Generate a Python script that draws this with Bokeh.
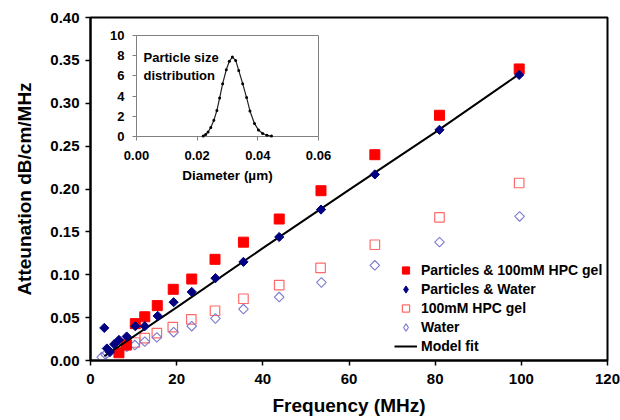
import math
from bokeh.plotting import figure
from bokeh.models import (Range1d, LinearAxis, FixedTicker, Legend, LegendItem,
                          Label, PrintfTickFormatter)
from bokeh.embed import file_html
from bokeh.resources import INLINE

# ---------------- data ----------------
# Particles & 100mM HPC gel (filled red squares)
gel_p_freq = [6.6, 8.3, 10.4, 12.6, 15.5, 19.2, 23.5, 28.9, 35.5, 43.8, 53.5, 66.0, 81.0, 99.5]
gel_p_att = [0.009, 0.018, 0.043, 0.051, 0.064, 0.083, 0.095, 0.118, 0.138, 0.165, 0.198, 0.240, 0.286, 0.340]

# Particles & Water (filled navy diamonds)
wat_p_freq = [3.2, 3.8, 4.5, 5.5, 6.6, 8.4, 10.4, 12.6, 15.6, 19.3, 23.5, 29.0, 35.5, 43.8, 53.5, 66.0, 81.0, 99.5]
wat_p_att = [0.038, 0.014, 0.010, 0.019, 0.024, 0.028, 0.040, 0.040, 0.052, 0.068, 0.080, 0.096, 0.115, 0.144, 0.176, 0.217, 0.269, 0.333]

# 100mM HPC gel (open red squares)
gel_freq = [6.4, 8.4, 10.3, 12.6, 15.4, 19.1, 23.4, 28.9, 35.5, 43.8, 53.4, 66.0, 81.0, 99.5]
gel_att = [0.015, 0.019, 0.021, 0.026, 0.032, 0.039, 0.048, 0.058, 0.072, 0.088, 0.108, 0.135, 0.167, 0.207]

# Water (open blue diamonds)
wat_freq = [2.6, 3.5, 4.5, 6.6, 8.4, 10.3, 12.6, 15.4, 19.3, 23.5, 29.0, 35.5, 43.8, 53.6, 66.0, 81.0, 99.6]
wat_att = [0.004, 0.007, 0.010, 0.014, 0.016, 0.018, 0.022, 0.027, 0.033, 0.040, 0.049, 0.060, 0.074, 0.091, 0.111, 0.138, 0.168]

# Model fit line
fit_freq = [3.2, 20.0, 40.0, 60.0, 80.0, 99.5]
fit_att = [0.005, 0.062, 0.131, 0.199, 0.266, 0.334]

# Inset: particle size distribution
diam = [0.0220, 0.0228, 0.0236, 0.0245, 0.0255, 0.0265, 0.0274, 0.0284, 0.0296, 0.0306, 0.0316,
        0.0327, 0.0337, 0.0350, 0.0363, 0.0374, 0.0389, 0.0402, 0.0416, 0.0430, 0.0445]
psd = [0.06, 0.2, 0.45, 0.9, 1.6, 2.57, 3.81, 5.23, 6.61, 7.45, 7.86,
       7.53, 6.54, 5.23, 3.85, 2.53, 1.28, 0.65, 0.3, 0.12, 0.04]

x_ticks = [0, 20, 40, 60, 80, 100, 120]
y_ticks = [0.0, 0.05, 0.10, 0.15, 0.20, 0.25, 0.30, 0.35, 0.40]
inset_x_ticks = [0.0, 0.02, 0.04, 0.06]
inset_y_ticks = [0, 2, 4, 6, 8, 10]

labels = ["Particles & 100mM HPC gel", "Particles & Water", "100mM HPC gel", "Water", "Model fit"]

# ---------------- layout constants (pixels) ----------------
W, H = 620, 420
FL, FR, FT, FB = 90, 607, 17, 360       # main frame
IL, IR, IT, IB = 136, 318, 35, 136      # inset frame
FONT = "Liberation Sans"

p = figure(width=W, height=H, output_backend="svg", toolbar_location=None, title=None,
           x_range=Range1d(x_ticks[0], x_ticks[-1]), y_range=Range1d(y_ticks[0], y_ticks[-1]),
           min_border_left=FL, min_border_right=W - FR, min_border_top=FT, min_border_bottom=H - FB)
p.grid.visible = False
p.outline_line_color = "black"
p.outline_line_width = 2
p.background_fill_color = "white"
p.border_fill_color = "white"

for ax in (p.xaxis[0], p.yaxis[0]):
    ax.axis_line_color = "black"
    ax.axis_line_width = 2
    ax.major_tick_line_color = "black"
    ax.major_tick_line_width = 1.5
    ax.major_tick_out = 5
    ax.major_tick_in = 0
    ax.minor_tick_line_color = None
    ax.major_label_text_font = FONT
    ax.major_label_text_font_style = "bold"
    ax.major_label_text_font_size = "15px"
    ax.major_label_text_color = "black"
    ax.axis_label_text_font = FONT
    ax.axis_label_text_font_style = "bold"
    ax.axis_label_text_font_size = "19px"
    ax.axis_label_text_color = "black"

p.xaxis.ticker = FixedTicker(ticks=x_ticks)
p.xaxis.formatter = PrintfTickFormatter(format="%d")
p.xaxis.axis_label = "Frequency (MHz)"
p.xaxis.major_label_standoff = 8
p.xaxis.axis_label_standoff = 8

p.yaxis.ticker = FixedTicker(ticks=y_ticks)
p.yaxis.formatter = PrintfTickFormatter(format="%.2f")
p.yaxis.axis_label = "Atteunation dB/cm/MHz"
p.yaxis.major_label_standoff = 6
p.yaxis.axis_label_standoff = 12

# ---------------- inset coordinate system ----------------
ix0, ix1 = inset_x_ticks[0], inset_x_ticks[-1]
iy0, iy1 = inset_y_ticks[0], inset_y_ticks[-1]
sx = (IR - IL) / (ix1 - ix0)
sy = (IB - IT) / (iy1 - iy0)
p.extra_x_ranges = {"ix": Range1d(ix0 - (IL - FL) / sx, ix1 + (FR - IR) / sx)}
p.extra_y_ranges = {"iy": Range1d(iy0 - (FB - IB) / sy, iy1 + (IT - FT) / sy),
                    # range far above the data: renderers on it are clipped away (legend-only)
                    "legend_only": Range1d(y_ticks[-1] + 10, y_ticks[-1] + 20)}

p.quad(left=[ix0], right=[ix1], bottom=[iy0], top=[iy1], x_range_name="ix", y_range_name="iy",
       fill_color="white", line_color="#808080", line_width=1)
p.line(diam, psd, x_range_name="ix", y_range_name="iy", line_color="#222222", line_width=1.2)
p.scatter(diam, psd, x_range_name="ix", y_range_name="iy", marker="circle", size=3,
          fill_color="black", line_color=None)

def inset_axis(ticks, fmt, standoff):
    return LinearAxis(x_range_name="ix", y_range_name="iy", fixed_location=0,
                      ticker=FixedTicker(ticks=ticks), formatter=PrintfTickFormatter(format=fmt),
                      axis_line_color=None, major_tick_line_color="#808080", major_tick_out=4,
                      major_tick_in=0, minor_tick_line_color=None,
                      major_label_text_font=FONT, major_label_text_font_style="bold",
                      major_label_text_font_size="13px", major_label_text_color="black",
                      major_label_standoff=standoff)

p.add_layout(inset_axis(inset_x_ticks, "%.2f", 10), "below")
p.add_layout(inset_axis(inset_y_ticks, "%d", 8), "left")

p.add_layout(Label(x=(ix0 + ix1) / 2, y=iy0 - 39 / sy, x_range_name="ix", y_range_name="iy",
                   text="Diameter (µm)", text_align="center", text_baseline="alphabetic",
                   text_font=FONT, text_font_style="bold", text_font_size="13.5px", text_color="black"))
p.add_layout(Label(x=ix0 + 7 / sx, y=iy1 - 14 / sy, x_range_name="ix", y_range_name="iy",
                   text="Particle size\ndistribution", text_align="left", text_baseline="top",
                   text_font=FONT, text_font_style="bold", text_font_size="13px", text_color="black",
                   text_line_height=1.2))

# ---------------- main series ----------------
GEL_OPEN = dict(fill_color=None, line_color="#ff6a6a", line_width=1.2)
WAT_OPEN = dict(fill_color=None, line_color="#7b7bd0", line_width=1.1)
WAT_FILL = dict(fill_color="#000080", line_color="#000080")

r_gel = p.scatter(gel_freq, gel_att, marker="square", size=9.5, **GEL_OPEN)
r_wat = p.scatter(wat_freq, wat_att, marker="square", angle=math.pi / 4, size=6.8, **WAT_OPEN)
r_gelp = p.scatter(gel_p_freq, gel_p_att, marker="square", size=10, fill_color="#ff0000",
                   line_color="#ff0000")
r_fit = p.line(fit_freq, fit_att, line_color="black", line_width=2)
r_watp = p.scatter(wat_p_freq, wat_p_att, marker="square", angle=math.pi / 4, size=6.5, **WAT_FILL)

# legend-only proxies for the diamonds (the legend does not rotate markers)
lg_watp = p.scatter(wat_p_freq, wat_p_att, marker="diamond", size=9, y_range_name="legend_only",
                    **WAT_FILL)
lg_wat = p.scatter(wat_freq, wat_att, marker="diamond", size=9, y_range_name="legend_only",
                   **WAT_OPEN)

legend = Legend(items=[LegendItem(label=labels[0], renderers=[r_gelp]),
                       LegendItem(label=labels[1], renderers=[lg_watp]),
                       LegendItem(label=labels[2], renderers=[r_gel]),
                       LegendItem(label=labels[3], renderers=[lg_wat]),
                       LegendItem(label=labels[4], renderers=[r_fit])],
                location=(304, 5), glyph_width=23, glyph_height=18, label_height=18,
                label_standoff=4, spacing=1, padding=0, margin=0,
                border_line_color=None, background_fill_alpha=0,
                label_text_font=FONT, label_text_font_style="bold", label_text_font_size="14px",
                label_text_color="black")
p.add_layout(legend)

open("out.html", "w").write(file_html(p, INLINE))
